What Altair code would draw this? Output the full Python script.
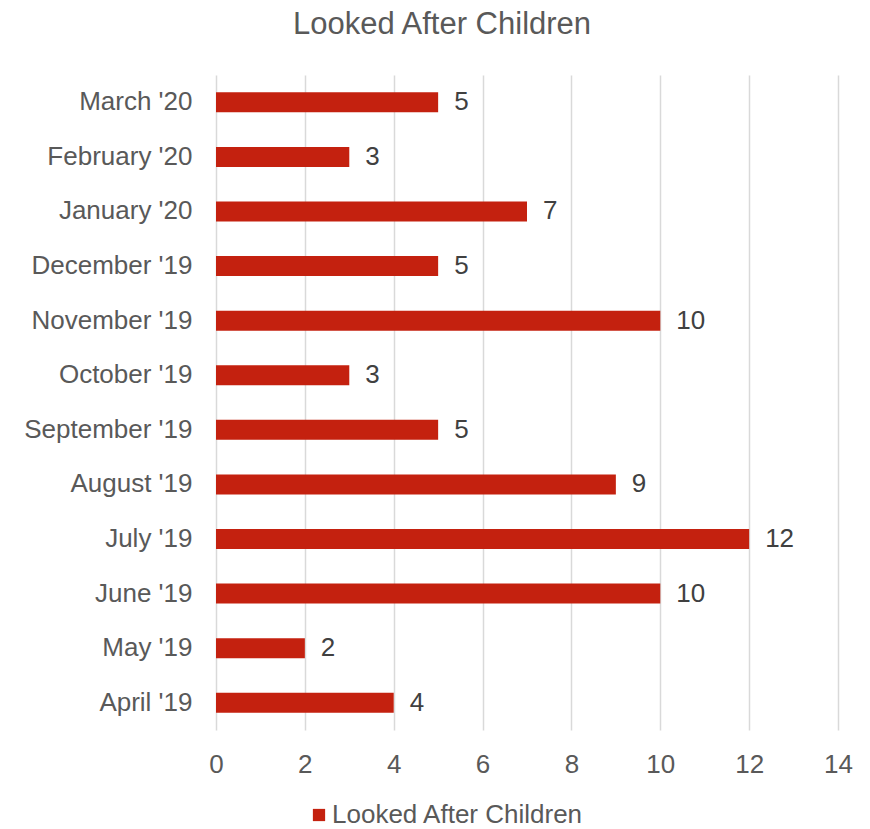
import altair as alt
import pandas as pd

months = ["March '20", "February '20", "January '20", "December '19", "November '19",
          "October '19", "September '19", "August '19", "July '19", "June '19",
          "May '19", "April '19"]
values = [5, 3, 7, 5, 10, 3, 5, 9, 12, 10, 2, 4]
series = "Looked After Children"

df = pd.DataFrame({"month": months, "value": values, "series": [series] * len(months)})

FONT = "Liberation Sans"
TXT = "#595959"

base = alt.Chart(df).encode(
    y=alt.Y("month:N", sort=months, title=None,
            axis=alt.Axis(domain=False, ticks=False, labelFont=FONT, labelFontSize=26,
                          labelColor=TXT, labelPadding=24, grid=False)),
)

bars = base.mark_bar(size=20).encode(
    x=alt.X("value:Q", scale=alt.Scale(domain=[0, 14], nice=False), title=None,
            axis=alt.Axis(values=[0, 2, 4, 6, 8, 10, 12, 14], domain=False, ticks=False,
                          labelFont=FONT, labelFontSize=26, labelColor=TXT, labelPadding=21,
                          labelFlush=False,
                          grid=True, gridColor="#D9D9D9", gridWidth=1.5)),
    color=alt.Color("series:N", scale=alt.Scale(range=["#C4210F"]), title=None,
                    legend=alt.Legend(orient="none", legendX=90, legendY=727, symbolType="square",
                                      symbolSize=150, symbolStrokeWidth=0, labelFont=FONT,
                                      labelFontSize=26, labelColor=TXT, padding=0,
                                      symbolOffset=0, labelOffset=0, labelLimit=500)),
)

labels = base.mark_text(align="left", baseline="middle", dx=16, font=FONT, fontSize=26,
                        color="#404040").encode(
    x=alt.X("value:Q"),
    text=alt.Text("value:Q"),
)

chart = (bars + labels).properties(
    width=622, height=655,
    title=alt.TitleParams("Looked After Children", font=FONT, fontSize=31, fontWeight="normal",
                          color=TXT, anchor="middle", dx=-85, offset=10, baseline="alphabetic"),
    autosize=alt.AutoSizeParams(type="none"),
    padding={"left": 216, "top": 75, "right": 32, "bottom": 99},
).configure_view(stroke=None)

chart.save("out.html", embed_options={"renderer": "svg", "actions": False})
